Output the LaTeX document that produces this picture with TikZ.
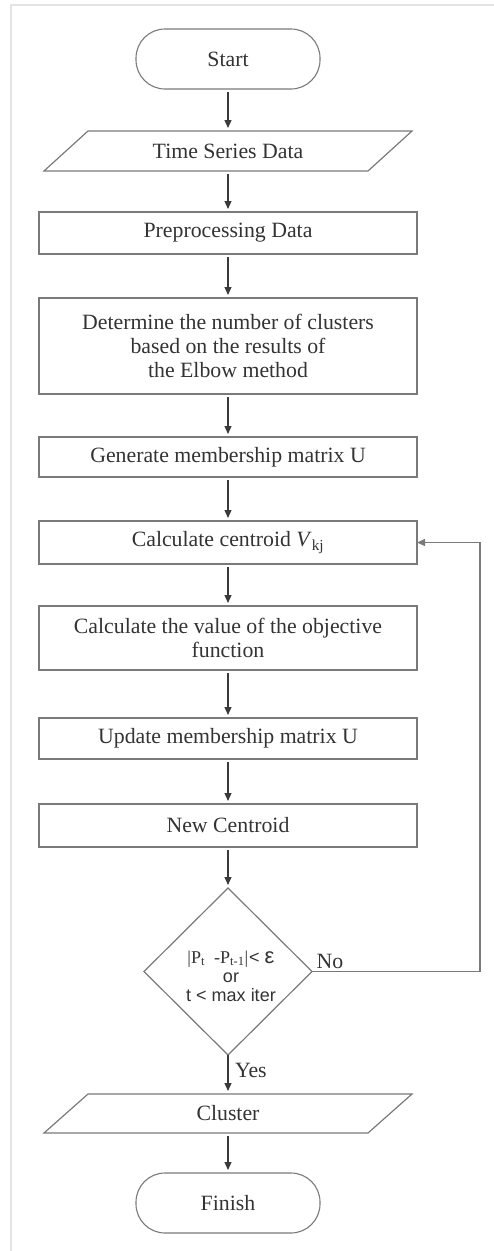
\documentclass[tikz,border=0pt]{standalone}
\usepackage{fontspec}
\setmainfont{Liberation Serif}
\setsansfont{Liberation Sans}
\usetikzlibrary{arrows.meta}
\definecolor{boxgray}{HTML}{7A7A7A}
\definecolor{txtgray}{HTML}{333333}
\definecolor{arrgray}{HTML}{3A3A3A}
\definecolor{framegray}{HTML}{E4E4E4}
\begin{document}
\begin{tikzpicture}[x=1pt,y=-1pt,
  base/.style={font=\fontsize{21.8}{24}\selectfont, text=txtgray, inner sep=0pt, outer sep=0pt, align=center},
  procbox/.style={base, draw=boxgray, line width=1.2pt, rectangle, minimum width=378pt},
  termbox/.style={base, draw=boxgray, line width=1.1pt, rectangle, rounded corners=29pt, minimum width=184pt, minimum height=60pt},
  iobox/.style={base, rectangle, minimum width=324pt},
  ioline/.style={draw=boxgray, line width=1.2pt, line join=miter},
  decbox/.style={base, rectangle, font=\sffamily\fontsize{18}{19}\selectfont, minimum width=168pt, minimum height=167pt},
  arr/.style={draw=arrgray, line width=1.1pt, -{Triangle[width=7pt,length=8pt]}},
  gap/.style={shorten <=3pt, shorten >=3pt}
]
\useasboundingbox (0,0) rectangle (494,1251);
\draw[framegray, line width=2pt] (11,1251) -- (11,5) -- (494,5);

\node[termbox] (start) at (228,59) {Start};
\node[iobox, minimum height=40pt] (tsd) at (228,151) {Time Series Data};
\draw[ioline] ([xshift=-22pt]tsd.south west) -- ([xshift=22pt]tsd.north west) -- ([xshift=22pt]tsd.north east) -- ([xshift=-22pt]tsd.south east) -- cycle;
\node[procbox, minimum height=42pt] (prep) at (228,233) {Preprocessing Data};
\node[procbox, minimum height=96pt] (det) at (228,346) {Determine the number of clusters\\based on the results of\\the Elbow method};
\node[procbox, minimum height=40pt] (gen) at (228,457) {Generate membership matrix U};
\node[procbox, minimum height=43pt] (cent) at (228,542.5) {Calculate centroid \textit{V}\textsubscript{kj}};
\node[procbox, minimum height=64pt] (obj) at (228,638) {Calculate the value of the objective\\function};
\node[procbox, minimum height=41pt] (upd) at (228,738.5) {Update membership matrix U};
\node[procbox, minimum height=43pt] (newc) at (228,825.5) {New Centroid};
\node[decbox] (dec) at (228,971.5) {};
\draw[ioline] (dec.north) -- (dec.east) -- (dec.south) -- (dec.west) -- cycle;
\node[base, font=\sffamily\fontsize{18}{19}\selectfont] (dectext) at (231,976) {{\rmfamily|P\textsubscript{t}\ \ -P\textsubscript{t-1}|}\kern1pt< {\fontsize{22}{22}\selectfont ε}\\or\\t < max iter};
\node[iobox, minimum height=39pt] (clu) at (228,1113.5) {Cluster};
\draw[ioline] ([xshift=-22pt]clu.south west) -- ([xshift=22pt]clu.north west) -- ([xshift=22pt]clu.north east) -- ([xshift=-22pt]clu.south east) -- cycle;
\node[termbox] (fin) at (228,1203) {Finish};

\node[base] (no) at (330,961) {No};
\node[base, anchor=west] (yes) at (235,1070) {Yes};
\coordinate (fbk) at (480,971.5);

\draw[arr, gap] (start.south) -- (tsd.north);
\draw[arr, gap] (tsd.south) -- (prep.north);
\draw[arr, gap] (prep.south) -- (det.north);
\draw[arr, gap] (det.south) -- (gen.north);
\draw[arr, gap] (gen.south) -- (cent.north);
\draw[arr, gap] (cent.south) -- (obj.north);
\draw[arr, gap] (obj.south) -- (upd.north);
\draw[arr, gap] (upd.south) -- (newc.north);
\draw[arr, gap] (newc.south) -- (dec.north);
\draw[arr, shorten >=3pt] (dec.south) -- (clu.north);
\draw[arr, gap] (clu.south) -- (fin.north);
\draw[arr, draw=boxgray] (dec.east) -- (fbk) |- (cent.east);
\end{tikzpicture}
\end{document}
